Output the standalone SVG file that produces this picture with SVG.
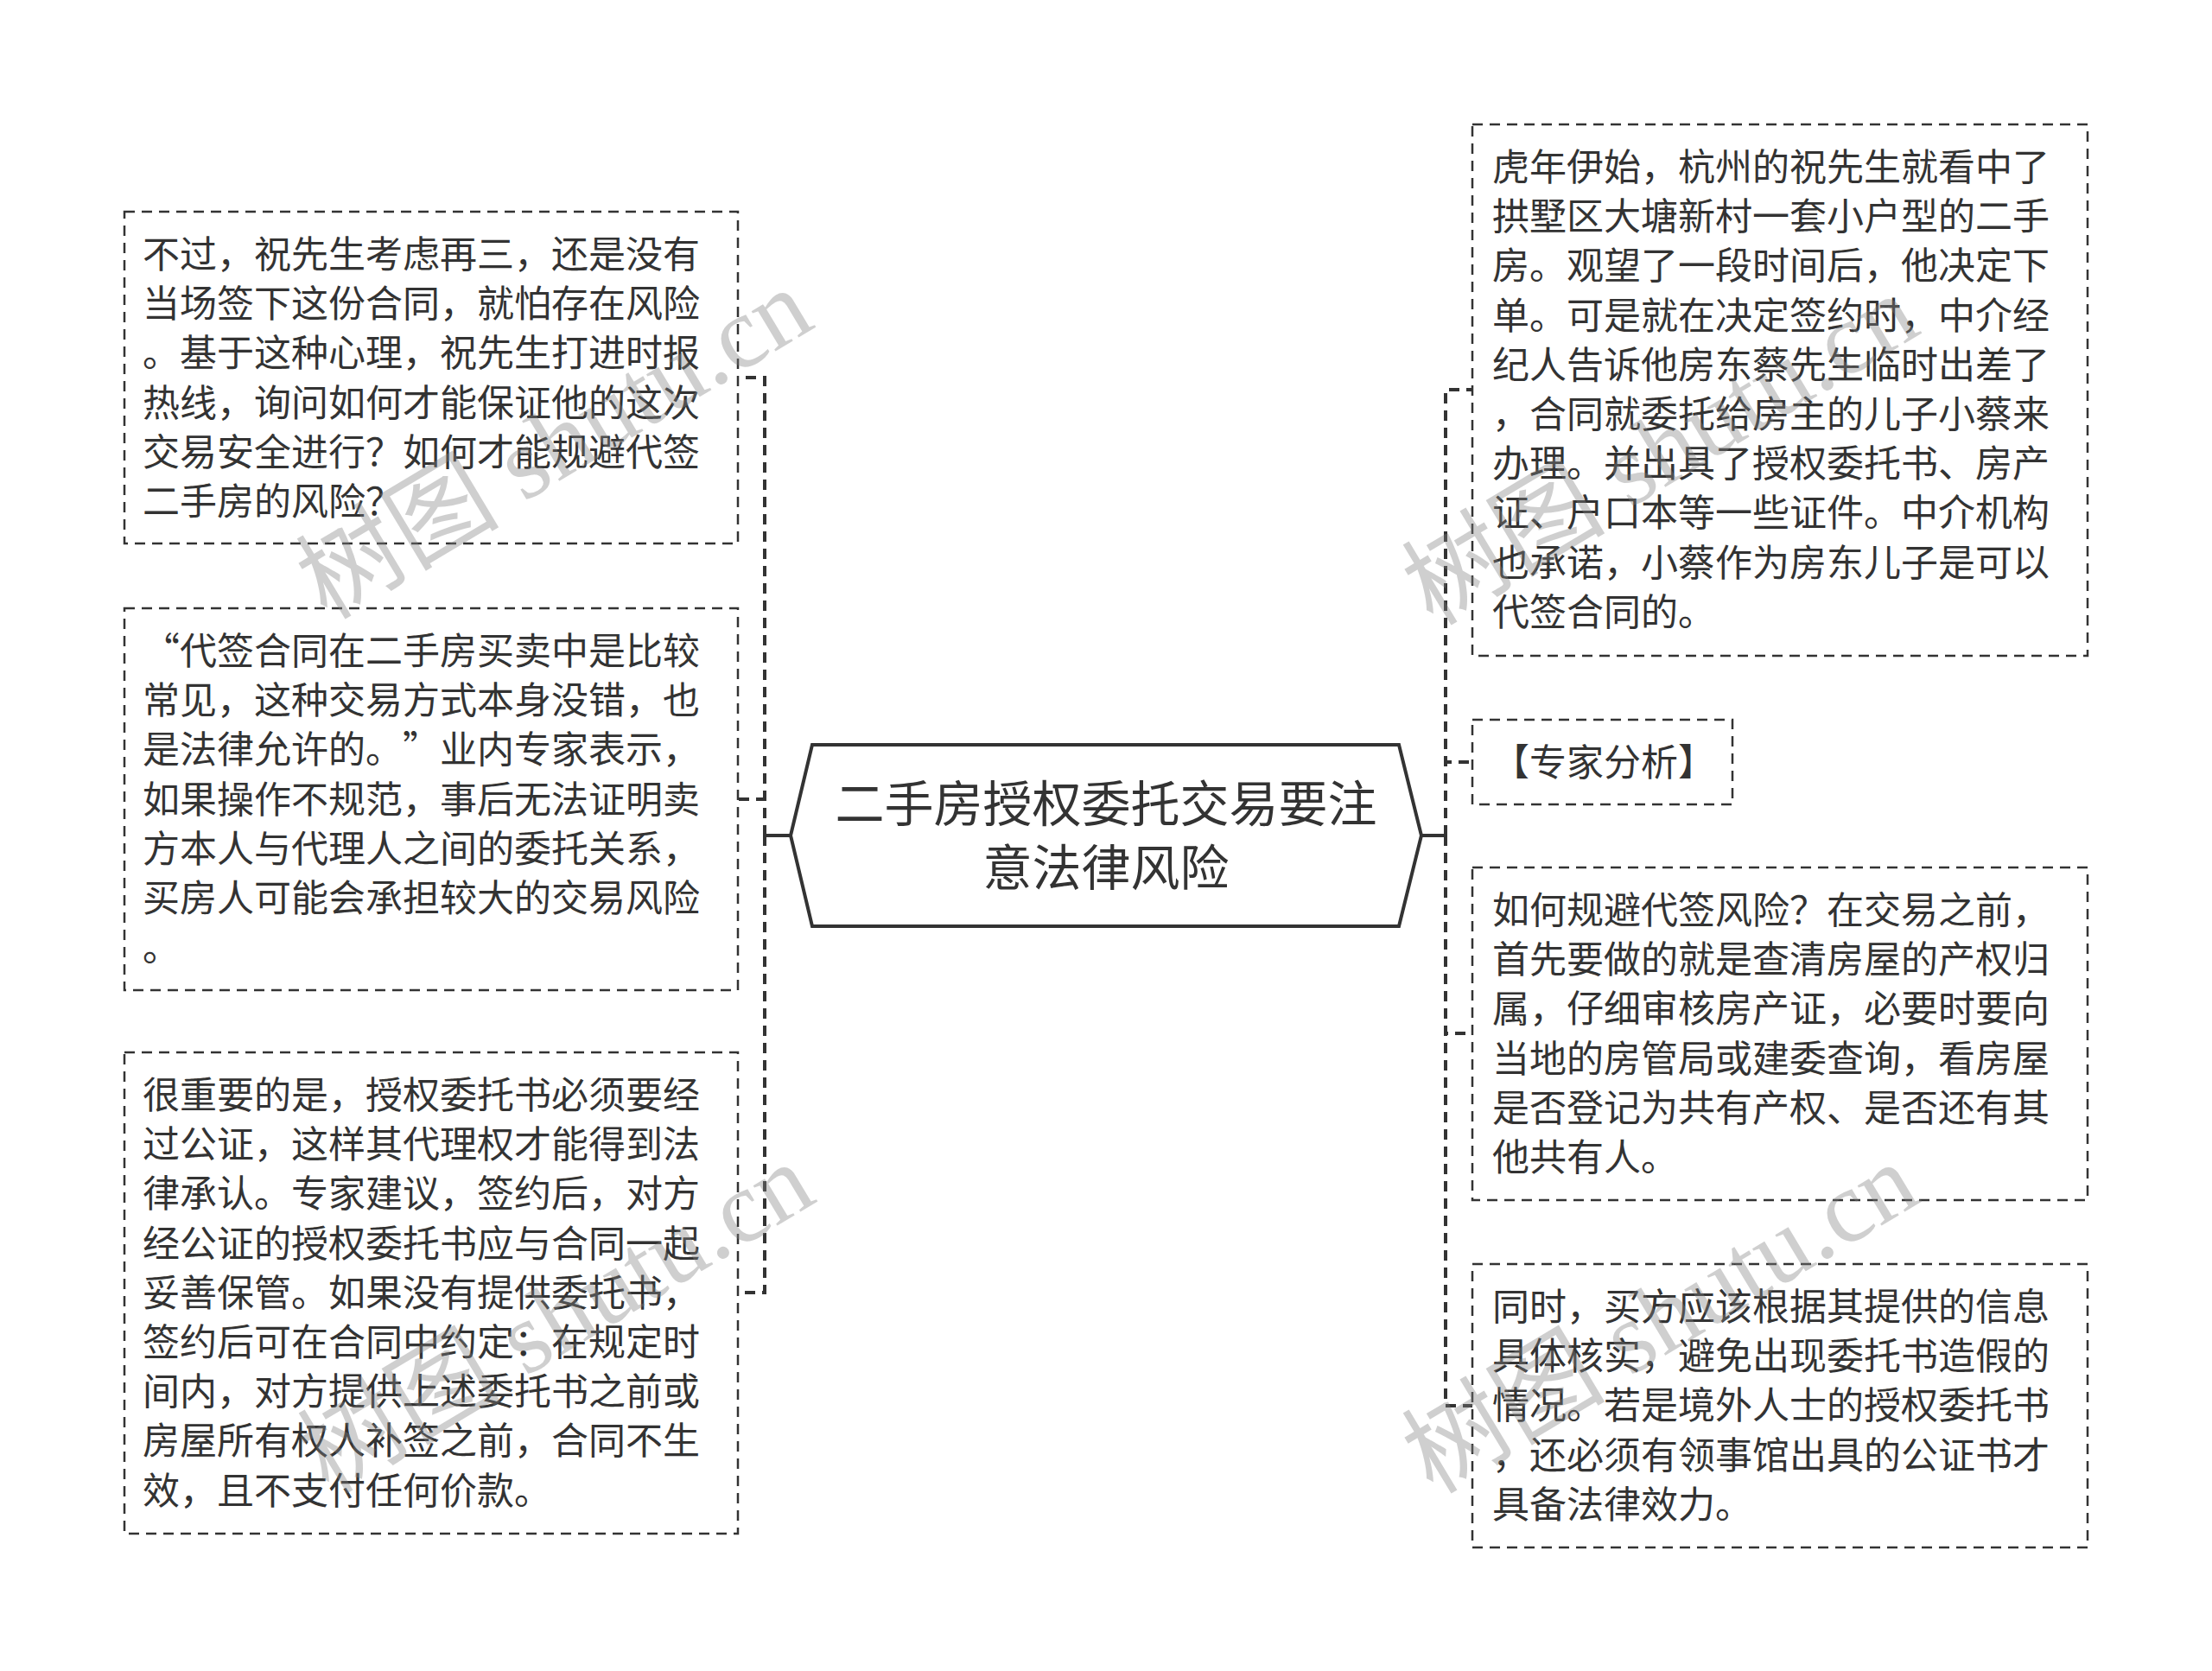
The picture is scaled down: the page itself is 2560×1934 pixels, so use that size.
<svg xmlns="http://www.w3.org/2000/svg" width="2560" height="1934" viewBox="0 0 2560 1934">
<style>
.bg{fill:#ffffff}
.box{fill:#ffffff;stroke:#333333;stroke-width:2.5;stroke-dasharray:12 8}
.conn{fill:none;stroke:#333333;stroke-width:4;stroke-dasharray:12 8}
.solid{fill:none;stroke:#333333;stroke-width:4}
.center{fill:#ffffff;stroke:#333333;stroke-width:4;stroke-linejoin:miter}
.t{font-family:"Liberation Sans","Noto Sans CJK SC",sans-serif;font-size:43px;fill:#333333}
.q{font-family:"Noto Sans CJK SC","Liberation Sans",sans-serif}
.ct{font-family:"Liberation Sans","Noto Sans CJK SC",sans-serif;font-size:57px;fill:#333333;text-anchor:middle}
.wm{font-family:"Liberation Serif","Noto Sans CJK SC",serif;font-size:118px;fill:#808080;fill-opacity:0.38;text-anchor:middle}
</style>
<rect class="bg" x="0" y="0" width="2560" height="1934"/>
<g id="connectors">
<line class="solid" x1="915" y1="967" x2="885" y2="967"/>
<path class="conn" d="M885 967 V437 H854"/>
<path class="conn" d="M885 967 V925 H854"/>
<path class="conn" d="M885 967 V1496 H854"/>
<line class="solid" x1="1645" y1="967" x2="1673" y2="967"/>
<path class="conn" d="M1673 967 V451 H1704"/>
<path class="conn" d="M1673 967 V882 H1704"/>
<path class="conn" d="M1673 967 V1196 H1704"/>
<path class="conn" d="M1673 967 V1627 H1704"/>
</g>
<g id="center-node">
<polygon class="center" points="940,862 1619,862 1645,967 1619,1072 940,1072 915,967"/>
<text class="ct"><tspan x="1280" y="951">二手房授权委托交易要注</tspan><tspan x="1280" y="1025">意法律风险</tspan></text>
</g>
<g id="node-left-1">
<rect class="box" x="144" y="245" width="710" height="384"/>
<text class="t"><tspan x="165" y="310">不过，祝先生考虑再三，还是没有</tspan><tspan x="165" y="367.2">当场签下这份合同，就怕存在风险</tspan><tspan x="165" y="424.4">。基于这种心理，祝先生打进时报</tspan><tspan x="165" y="481.6">热线，询问如何才能保证他的这次</tspan><tspan x="165" y="538.8">交易安全进行？如何才能规避代签</tspan><tspan x="165" y="596">二手房的风险？</tspan></text>
</g>
<g id="node-left-2">
<rect class="box" x="144" y="704" width="710" height="442"/>
<text class="t"><tspan class="q" x="165" y="769">“</tspan><tspan x="208" y="769">代签合同在二手房买卖中是比较</tspan><tspan x="165" y="826.2">常见，这种交易方式本身没错，也</tspan><tspan x="165" y="883.4">是法律允许的。</tspan><tspan class="q" x="466" y="883.4">”</tspan><tspan x="509" y="883.4">业内专家表示，</tspan><tspan x="165" y="940.6">如果操作不规范，事后无法证明卖</tspan><tspan x="165" y="997.8">方本人与代理人之间的委托关系，</tspan><tspan x="165" y="1055">买房人可能会承担较大的交易风险</tspan><tspan x="165" y="1112.2">。</tspan></text>
</g>
<g id="node-left-3">
<rect class="box" x="144" y="1218" width="710" height="557"/>
<text class="t"><tspan x="165" y="1283">很重要的是，授权委托书必须要经</tspan><tspan x="165" y="1340.2">过公证，这样其代理权才能得到法</tspan><tspan x="165" y="1397.4">律承认。专家建议，签约后，对方</tspan><tspan x="165" y="1454.6">经公证的授权委托书应与合同一起</tspan><tspan x="165" y="1511.8">妥善保管。如果没有提供委托书，</tspan><tspan x="165" y="1569">签约后可在合同中约定：在规定时</tspan><tspan x="165" y="1626.2">间内，对方提供上述委托书之前或</tspan><tspan x="165" y="1683.4">房屋所有权人补签之前，合同不生</tspan><tspan x="165" y="1740.6">效，且不支付任何价款。</tspan></text>
</g>
<g id="node-right-1">
<rect class="box" x="1704" y="144" width="712" height="615"/>
<text class="t"><tspan x="1727" y="209">虎年伊始，杭州的祝先生就看中了</tspan><tspan x="1727" y="266.2">拱墅区大塘新村一套小户型的二手</tspan><tspan x="1727" y="323.4">房。观望了一段时间后，他决定下</tspan><tspan x="1727" y="380.6">单。可是就在决定签约时，中介经</tspan><tspan x="1727" y="437.8">纪人告诉他房东蔡先生临时出差了</tspan><tspan x="1727" y="495">，合同就委托给房主的儿子小蔡来</tspan><tspan x="1727" y="552.2">办理。并出具了授权委托书、房产</tspan><tspan x="1727" y="609.4">证、户口本等一些证件。中介机构</tspan><tspan x="1727" y="666.6">也承诺，小蔡作为房东儿子是可以</tspan><tspan x="1727" y="723.8">代签合同的。</tspan></text>
</g>
<g id="node-right-2">
<rect class="box" x="1704" y="833" width="301" height="98"/>
<text class="t"><tspan x="1727" y="898">【专家分析】</tspan></text>
</g>
<g id="node-right-3">
<rect class="box" x="1704" y="1004" width="712" height="385"/>
<text class="t"><tspan x="1727" y="1069">如何规避代签风险？在交易之前，</tspan><tspan x="1727" y="1126.2">首先要做的就是查清房屋的产权归</tspan><tspan x="1727" y="1183.4">属，仔细审核房产证，必要时要向</tspan><tspan x="1727" y="1240.6">当地的房管局或建委查询，看房屋</tspan><tspan x="1727" y="1297.8">是否登记为共有产权、是否还有其</tspan><tspan x="1727" y="1355">他共有人。</tspan></text>
</g>
<g id="node-right-4">
<rect class="box" x="1704" y="1463" width="712" height="328"/>
<text class="t"><tspan x="1727" y="1528">同时，买方应该根据其提供的信息</tspan><tspan x="1727" y="1585.2">具体核实，避免出现委托书造假的</tspan><tspan x="1727" y="1642.4">情况。若是境外人士的授权委托书</tspan><tspan x="1727" y="1699.6">，还必须有领事馆出具的公证书才</tspan><tspan x="1727" y="1756.8">具备法律效力。</tspan></text>
</g>
<g id="watermarks">
<text class="wm" transform="translate(662,548) rotate(-31)">树图 shutu.cn</text>
<text class="wm" transform="translate(664,1560) rotate(-31)">树图 shutu.cn</text>
<text class="wm" transform="translate(1942,555) rotate(-31)">树图 shutu.cn</text>
<text class="wm" transform="translate(1942,1560) rotate(-31)">树图 shutu.cn</text>
</g>
</svg>
